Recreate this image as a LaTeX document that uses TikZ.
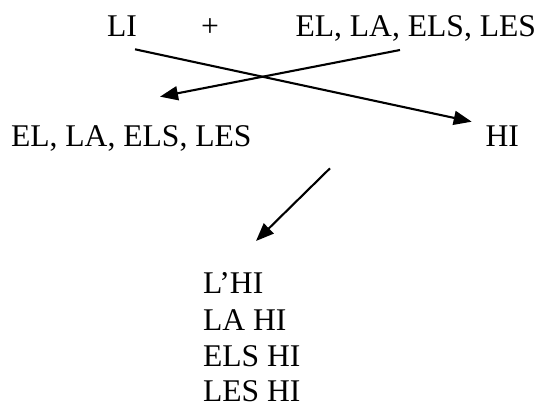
\documentclass[tikz,border=0pt]{standalone}
\usepackage{fontspec}
\setmainfont{Liberation Serif}
\usetikzlibrary{arrows.meta}
\tikzset{
  lbl/.style={inner sep=0pt, outer sep=0pt, anchor=base west, font=\fontsize{31.6}{36}\selectfont},
  arr/.style={line width=2.1pt, -{Triangle[length=18pt,width=14pt]}}
}
\begin{document}
\begin{tikzpicture}[x=1pt,y=-1pt]
\useasboundingbox[fill=white] (0,0) rectangle (541,406);
% top row
\node[lbl] (LI) at (107,36.5) {LI};
\node[lbl] (plus) at (201,36.5) {+};
\node[lbl] (ELt) at (295.5,36.5) {EL, LA, ELS, LES};
% middle row
\node[lbl] (ELb) at (11,146.3) {EL, LA, ELS, LES};
\node[lbl] (HI) at (485.5,146.3) {HI};
% list
\node[lbl] (l1) at (203,294) {L’HI};
\node[lbl] (l2) at (203,330) {LA HI};
\node[lbl] (l3) at (203,366) {ELS HI};
\node[lbl] (l4) at (203,401.5) {LES HI};
% connectors
\draw[arr] ([shift={(28,12.8)}]LI.base west) -- ([shift={(-13.8,-24.6)}]HI.base west);
\draw[arr] ([shift={(104.5,13.5)}]ELt.base west) -- ([shift={(149,-49.6)}]ELb.base west);
\draw[arr] ([shift={(-155.5,22)}]HI.base west) -- ([shift={(53,-53)}]l1.base west);
\end{tikzpicture}
\end{document}
